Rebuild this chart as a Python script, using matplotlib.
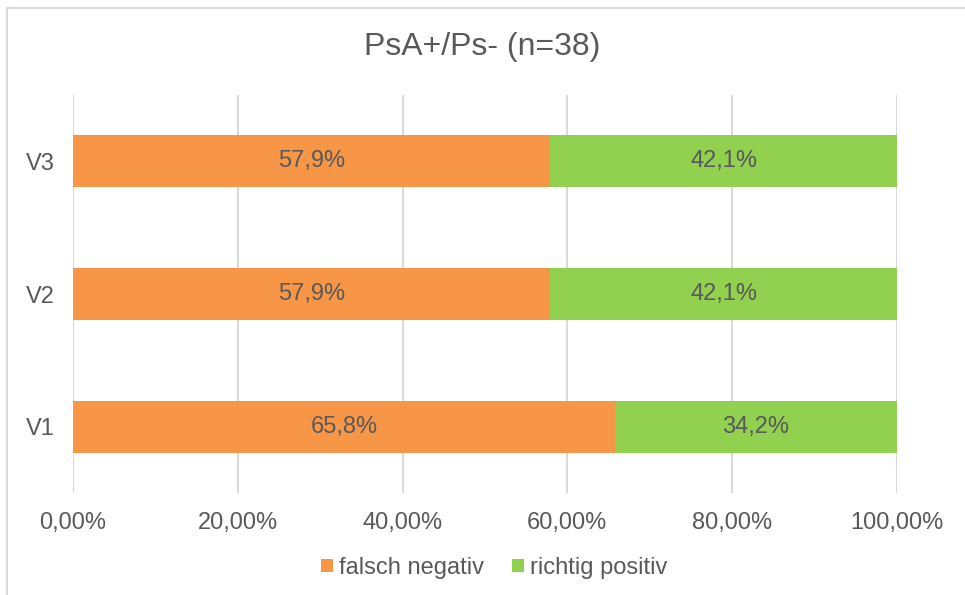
import numpy as np
import matplotlib

matplotlib.use('Agg')
import matplotlib.pyplot as plt
from matplotlib.lines import Line2D
from matplotlib.ticker import FuncFormatter

categories = ['V1', 'V2', 'V3']
falsch_negativ = [65.8, 57.9, 57.9]
richtig_positiv = [34.2, 42.1, 42.1]
series_names = ['falsch negativ', 'richtig positiv']
x_ticks = [0, 20, 40, 60, 80, 100]

plt.rcParams['font.family'] = ['Liberation Sans', 'DejaVu Sans']
text_col = '#595959'
orange = '#F79646'
green = '#92D050'
grid_col = '#d9d9d9'

fig = plt.figure(figsize=(9.65, 5.95), dpi=100)
ax = fig.add_axes([0.0756, 0.1714, 0.8539, 0.6689])

y = np.arange(len(categories))
ax.barh(y, falsch_negativ, height=0.39, color=orange, label=series_names[0], zorder=2)
ax.barh(y, richtig_positiv, left=falsch_negativ, height=0.39, color=green,
        label=series_names[1], zorder=2)

for i in range(len(categories)):
    ax.text(falsch_negativ[i] / 2, y[i], ('%.1f%%' % falsch_negativ[i]).replace('.', ','),
            ha='center', va='center', fontsize=17, color=text_col, zorder=3)
    ax.text(falsch_negativ[i] + richtig_positiv[i] / 2, y[i],
            ('%.1f%%' % richtig_positiv[i]).replace('.', ','),
            ha='center', va='center', fontsize=17, color=text_col, zorder=3)

ax.set_xlim(0, 100)
ax.set_ylim(-0.5, 2.5)
ax.set_xticks(x_ticks)
ax.xaxis.set_major_formatter(FuncFormatter(lambda v, p: ('%.2f%%' % v).replace('.', ',')))
ax.set_yticks(y)
ax.set_yticklabels(categories)
ax.tick_params(axis='both', length=0, labelsize=17, labelcolor=text_col)
ax.tick_params(axis='x', pad=14)
ax.tick_params(axis='y', pad=13)
ax.grid(axis='x', color=grid_col, linewidth=1.5, zorder=0)
for s in ax.spines.values():
    s.set_visible(False)

fig.text(0.5, 1 - 47 / 595, 'PsA+/Ps- (n=38)', ha='center', va='center',
         fontsize=23, color=text_col)

leg = fig.legend(loc='center', bbox_to_anchor=(494 / 965, 1 - 568 / 595), ncol=2, frameon=False,
                 fontsize=17, handlelength=0.5, handleheight=0.5, handletextpad=0.25,
                 columnspacing=1.2)
for t in leg.get_texts():
    t.set_color(text_col)

# outer chart border (top and left visible)
fig.add_artist(Line2D([7 / 965, 7 / 965], [0, 1 - 8 / 595], transform=fig.transFigure,
                      color=grid_col, linewidth=1.5))
fig.add_artist(Line2D([7 / 965, 1], [1 - 8 / 595, 1 - 8 / 595], transform=fig.transFigure,
                      color=grid_col, linewidth=1.5))

fig.savefig('out.png', dpi=100)
